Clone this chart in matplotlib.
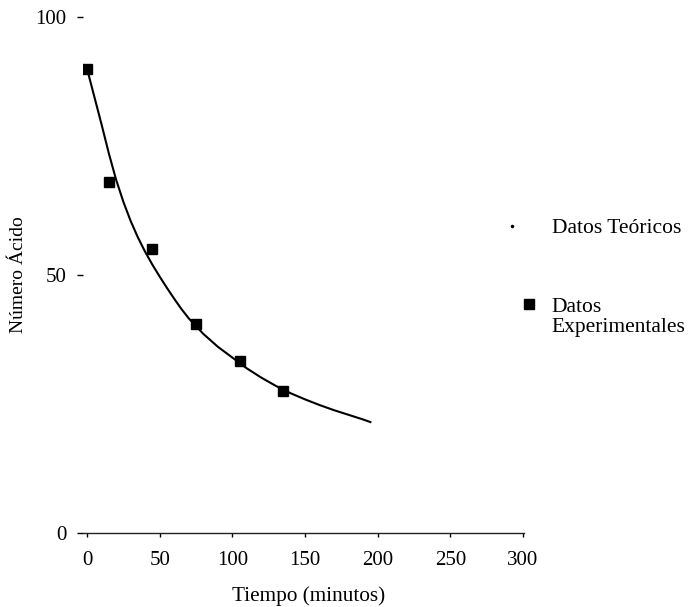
import matplotlib
matplotlib.use("Agg")
import matplotlib.pyplot as plt
from matplotlib.lines import Line2D

# Theoretical curve
t_teo = [0, 5, 10, 15, 20, 25, 30, 35, 40, 45, 50, 55, 60, 65, 70, 80, 90,
         100, 110, 120, 130, 140, 150, 160, 170, 180, 190, 195]
n_teo = [90, 84.6, 79.2, 73.6, 68.5, 64.2, 60.5, 57.3, 54.5, 52, 49.7,
         47.5, 45.4, 43.4, 41.6, 38.6, 36.1, 34, 31.9, 30.1, 28.5, 27.1,
         25.9, 24.8, 23.8, 22.9, 22, 21.5]

# Experimental points
t_exp = [0, 15, 45, 75, 105, 135]
n_exp = [90, 68, 55, 40.5, 33.3, 27.5]

x_ticks = [0, 50, 100, 150, 200, 250, 300]
y_ticks = [0, 50, 100]

plt.rcParams["font.family"] = ["Liberation Serif", "DejaVu Serif"]

fig = plt.figure(figsize=(6.88, 6.07), dpi=100)
ax = fig.add_axes([83 / 688, 74 / 607, 441 / 688, 516 / 607])

ax.plot(t_teo, n_teo, color="black", lw=1.5, solid_joinstyle="round")
ax.plot(t_exp, n_exp, ls="none", marker="s", ms=7.2, color="black")

ax.set_xlim(-2.75, 300.7)
ax.set_ylim(0, 100)
ax.set_xticks(x_ticks)
ax.set_yticks(y_ticks)

for side in ("left", "top", "right"):
    ax.spines[side].set_visible(False)
ax.spines["bottom"].set_linewidth(1.0)
ax.spines["bottom"].set_color("#222222")

ax.tick_params(axis="x", direction="out", length=3, width=1, pad=10,
               labelsize=15)
ax.tick_params(axis="y", direction="out", length=4, width=1, pad=8,
               labelsize=15)

ax.set_xlabel("Tiempo (minutos)", fontsize=15.3)
ax.xaxis.set_label_coords(0.511, -0.103)
ax.set_ylabel("Número Ácido", fontsize=14)
ax.yaxis.set_label_coords(-0.128, 0.5)

# legend: two entries placed separately like in the original
h_teo = Line2D([], [], ls="none", marker=".", ms=3, color="black")
h_exp = Line2D([], [], ls="none", marker="s", ms=7.2, color="black")
h_none = Line2D([], [], ls="none")

leg1 = fig.legend([h_teo], ["Datos Teóricos"], loc="center left",
                  bbox_to_anchor=(501 / 688, (607 - 228) / 607),
                  frameon=False, fontsize=15.5, handlelength=1.0,
                  handletextpad=1.35, borderpad=0, borderaxespad=0)
leg2 = fig.legend([h_exp, h_none], ["Datos", "Experimentales"],
                  loc="center left",
                  bbox_to_anchor=(518 / 688, (607 - 317) / 607),
                  frameon=False, fontsize=15.5, handlelength=1.0,
                  handletextpad=0.56, labelspacing=0.0,
                  borderpad=0, borderaxespad=0)

fig.savefig("out.png", dpi=100)
